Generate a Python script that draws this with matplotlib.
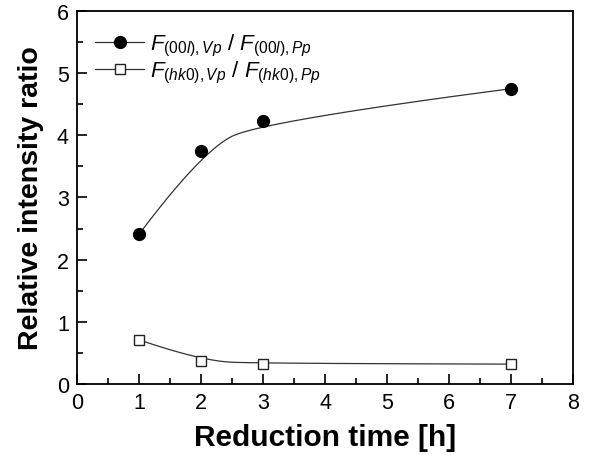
import matplotlib
matplotlib.use("Agg")
import matplotlib.pyplot as plt
import numpy as np
from matplotlib.ticker import MultipleLocator

# data
time_h = [1, 2, 3, 7]
ratio_00l = [2.41, 3.74, 4.23, 4.75]
ratio_hk0 = [0.71, 0.37, 0.33, 0.32]

plt.rcParams['font.family'] = ['Liberation Sans', 'DejaVu Sans']
plt.rcParams['mathtext.fontset'] = 'custom'
plt.rcParams['mathtext.rm'] = 'Liberation Sans'
plt.rcParams['mathtext.it'] = 'Liberation Sans:italic'


def bspline2(xs, ys, n=200):
    # clamped quadratic B-spline with the data points as control points
    P = np.column_stack([xs, ys]).astype(float)
    mids = (P[1:-1][:-1] + P[1:-1][1:]) / 2
    starts = np.vstack([P[:1], mids])
    ends = np.vstack([mids, P[-1:]])
    ctrl = P[1:-1]
    s = np.linspace(0, 1, n)[:, None]
    out = []
    for a, b, c in zip(starts, ctrl, ends):
        out.append((1 - s) ** 2 * a + 2 * s * (1 - s) * b + s ** 2 * c)
    out = np.vstack(out)
    return out[:, 0], out[:, 1]


fig = plt.figure(figsize=(5.89, 4.6), dpi=100)
ax = fig.add_axes([0.131, 0.163, 0.842, 0.811])

cx, cy = bspline2(time_h, ratio_00l)
ax.plot(cx, cy, color='#333333', lw=0.9)
cx, cy = bspline2(time_h, ratio_hk0)
ax.plot(cx, cy, color='#333333', lw=0.9)

ax.plot(time_h, ratio_00l, 'o', color='black', ms=8.5)
ax.plot(time_h, ratio_hk0, 's', mfc='white', mec='#222222', mew=1.0, ms=6.5)

# legend proxies
h1, = ax.plot([], [], '-o', color='#333333', lw=0.9, mfc='black', mec='black', ms=8.5)
h2, = ax.plot([], [], '-s', color='#333333', lw=0.9, mfc='white', mec='#222222', ms=6.5)
ax.legend([h1, h2],
          [r'$F_{(00\mathit{l}),\mathit{Vp}}$ / $F_{(00\mathit{l}),\mathit{Pp}}$',
           r'$F_{(\mathit{hk}0),\mathit{Vp}}$ / $F_{(\mathit{hk}0),\mathit{Pp}}$'],
          loc='upper left', frameon=False, fontsize=16, handlelength=2.2,
          handletextpad=0.25, borderaxespad=0.3, labelspacing=0.05,
          bbox_to_anchor=(0.005, 0.985))

ax.set_xlim(0, 8)
ax.set_ylim(0, 6)
ax.xaxis.set_major_locator(MultipleLocator(1))
ax.xaxis.set_minor_locator(MultipleLocator(0.5))
ax.yaxis.set_major_locator(MultipleLocator(1))
ax.yaxis.set_minor_locator(MultipleLocator(0.5))
ax.tick_params(which='both', direction='in', top=False, right=False,
               labelsize=15.5, width=1.2)
ax.tick_params(which='major', length=7, pad=6)
ax.tick_params(which='minor', length=4)
for sp in ax.spines.values():
    sp.set_linewidth(1.3)

ax.set_xlabel('Reduction time [h]', fontsize=21.5, fontweight='bold', labelpad=7)
ax.set_ylabel('Relative intensity ratio', fontsize=20.5, fontweight='bold', labelpad=9)

fig.savefig('out.png', dpi=100)
